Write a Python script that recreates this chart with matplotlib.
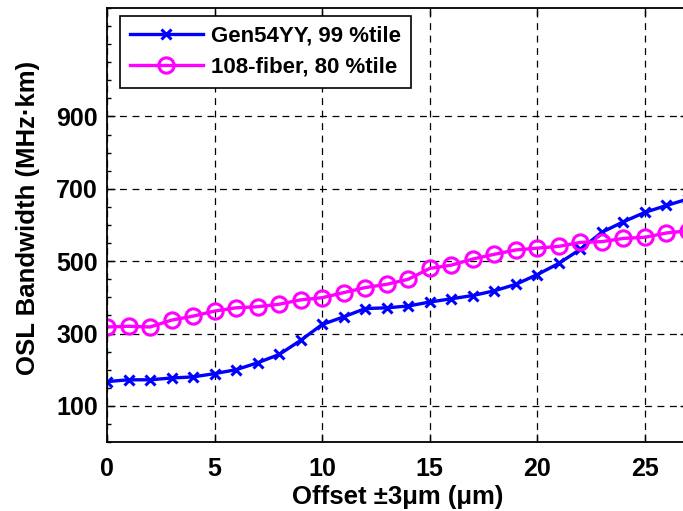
import matplotlib
matplotlib.use('Agg')
import matplotlib.pyplot as plt
from matplotlib.ticker import FixedLocator, MultipleLocator

plt.rcParams['font.family'] = ['Liberation Sans', 'DejaVu Sans']
plt.rcParams['font.weight'] = 'bold'

# offset positions (um)
offset = list(range(0, 28))

# OSL bandwidth values (MHz.km)
gen54yy_99 = [167, 172, 172, 177, 180, 189, 200, 219, 242, 281, 325,
              346, 369, 371, 376, 387, 396, 405, 418, 436, 463,
              494, 533, 580, 609, 635, 654, 672]
fiber108_80 = [318, 320, 318, 337, 348, 362, 371, 374, 381, 393, 399,
               413, 427, 436, 450, 480, 489, 506, 519, 531, 536,
               541, 552, 554, 563, 566, 578, 584]

y_ticks = [100, 300, 500, 700, 900]
x_ticks = [0, 5, 10, 15, 20, 25]

fig = plt.figure(figsize=(6.83, 5.11), dpi=100)
ax = fig.add_axes([107 / 683, 69 / 511, 581 / 683, 434 / 511])

ax.plot(offset, gen54yy_99, color='#0000ff', lw=2.4, marker='x',
        ms=7, mew=2.2, label='Gen54YY, 99 %tile')
ax.plot(offset, fiber108_80, color='#ff00ff', lw=2.4, marker='o',
        ms=11, mew=2.2, mfc='none', label='108-fiber, 80 %tile')

ax.set_xlim(0, 27)
ax.set_ylim(0, 1200)
ax.xaxis.set_major_locator(FixedLocator(x_ticks))
ax.yaxis.set_major_locator(FixedLocator(y_ticks))
ax.yaxis.set_minor_locator(MultipleLocator(50))
ax.tick_params(which='both', direction='in', top=True, right=True,
               labelsize=18, width=1)
ax.tick_params(which='major', length=6)
ax.tick_params(which='minor', length=3)
ax.tick_params(axis='x', which='major', pad=10.5)
ax.tick_params(axis='y', which='major', pad=6.5)

ax.grid(True, which='major', color='black', ls=(0, (5.5, 4.5)), lw=0.9)

for s in ax.spines.values():
    s.set_linewidth(1.3)

ax.set_xlabel('Offset \u00b13\u03bcm (\u03bcm)', fontsize=18.5, fontweight='bold', labelpad=3)
ax.set_ylabel('OSL Bandwidth (MHz\u00b7km)', fontsize=18.5, fontweight='bold')
ax.yaxis.set_label_coords(-0.116, 0.516)

leg = ax.legend(loc='upper left', bbox_to_anchor=(0.022, 0.982), borderaxespad=0,
                fontsize=16, fancybox=False, edgecolor='black', framealpha=1,
                handlelength=3.3, handletextpad=0.35, borderpad=0.45,
                labelspacing=0.45)
leg.get_frame().set_linewidth(1.2)
for t in leg.get_texts():
    t.set_fontweight('bold')

fig.savefig('out.png', dpi=100)
